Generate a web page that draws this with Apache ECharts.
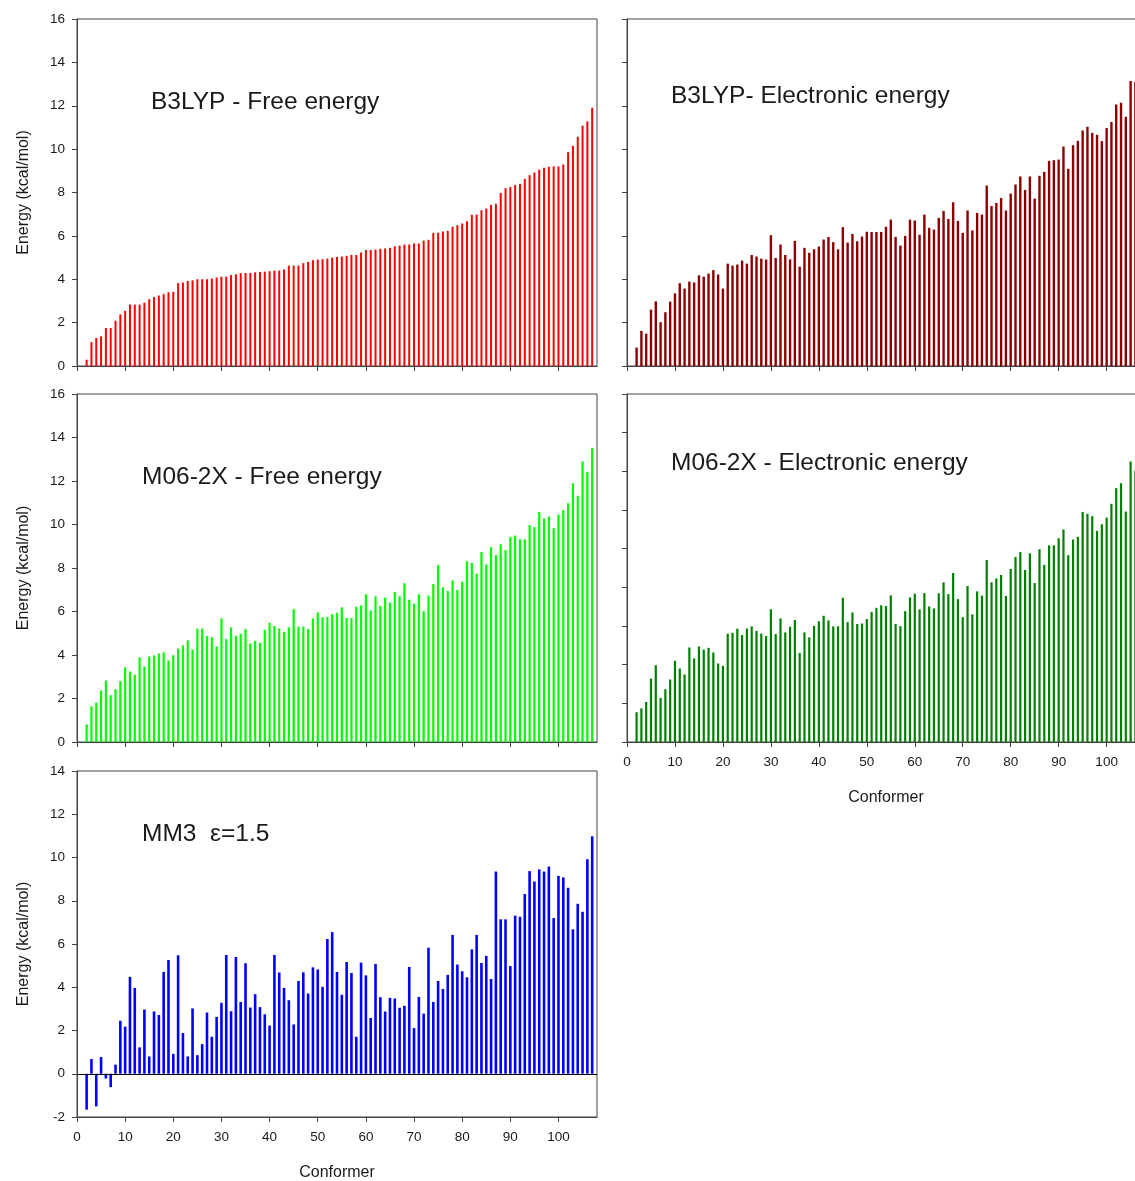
<!DOCTYPE html>
<html>
<head>
<meta charset="utf-8">
<script src="https://cdn.jsdelivr.net/npm/echarts@6/dist/echarts.min.js"></script>
<style>
html,body{margin:0;padding:0;background:#fff;}
#chart{width:1135px;height:1181px;}
</style>
</head>
<body>
<div id="chart"></div>
<script>
// Conformer values, index 0 = conformer 1
const b3lypFree = [0,0.29,1.1,1.29,1.37,1.75,1.75,2.09,2.38,2.54,2.83,2.83,2.83,2.92,3.08,3.18,3.25,3.31,3.4,3.42,
3.82,3.85,3.92,3.95,4.0,4.0,4.0,4.03,4.08,4.12,4.12,4.2,4.23,4.28,4.29,4.29,4.32,4.34,4.35,4.37,
4.4,4.4,4.45,4.63,4.63,4.63,4.74,4.8,4.88,4.91,4.92,4.95,5.0,5.03,5.05,5.08,5.12,5.12,5.23,5.35,
5.35,5.37,5.4,5.42,5.45,5.52,5.55,5.6,5.6,5.65,5.65,5.78,5.82,6.14,6.14,6.2,6.23,6.42,6.49,6.57,
6.68,6.97,6.98,7.18,7.26,7.43,7.48,7.98,8.2,8.25,8.35,8.4,8.63,8.8,8.92,9.05,9.14,9.18,9.2,9.2,
9.29,9.86,10.15,10.57,11.08,11.28,11.91];

const b3lypElec = [0,0.85,1.62,1.49,2.6,2.98,2.02,2.48,2.97,3.35,3.82,3.57,3.89,3.85,4.18,4.12,4.26,4.42,4.22,3.57,
4.72,4.63,4.68,4.86,4.72,5.12,5.05,4.95,4.91,6.03,4.98,5.6,5.12,4.92,5.77,4.58,5.45,5.22,5.38,5.51,
5.83,5.95,5.71,5.38,6.4,5.69,6.09,5.75,5.97,6.19,6.18,6.18,6.18,6.42,6.75,5.95,5.55,6.0,6.75,6.71,
6.05,6.98,6.37,6.29,6.83,7.15,6.78,7.55,6.69,6.14,7.17,6.25,7.06,6.98,8.32,7.37,7.52,7.75,7.17,7.95,
8.37,8.74,8.12,8.74,7.72,8.77,8.95,9.46,9.49,9.52,10.12,9.09,10.18,10.38,10.86,11.03,10.75,10.66,10.37,10.97,
11.25,12.06,12.14,11.49,13.14,13.11];

const m062xFree = [0,0.81,1.64,1.81,2.37,2.83,2.15,2.43,2.8,3.44,3.24,3.09,3.89,3.47,3.93,3.98,4.07,4.12,3.75,3.99,
4.29,4.45,4.67,4.25,5.21,5.21,4.88,4.82,4.39,5.68,4.73,5.27,4.88,4.98,5.19,4.53,4.65,4.56,5.16,5.48,
5.33,5.22,5.07,5.27,6.11,5.3,5.31,5.19,5.68,5.96,5.73,5.75,5.87,5.94,6.19,5.7,5.7,6.22,6.28,6.79,
6.05,6.7,6.25,6.64,6.41,6.9,6.7,7.3,6.54,6.36,6.79,6.01,6.73,7.27,8.13,7.11,6.94,7.43,6.99,7.37,
8.31,8.23,7.74,8.74,8.16,8.96,8.59,9.09,8.82,9.42,9.49,9.32,9.32,9.97,9.88,10.58,10.28,10.37,9.83,10.45,
10.66,10.98,11.9,11.32,12.9,12.43,13.53];

const m062xElec = [0,1.54,1.74,2.07,3.28,3.97,2.28,2.73,3.23,4.2,3.8,3.49,4.89,4.32,4.94,4.78,4.87,4.63,4.06,3.94,
5.6,5.65,5.86,5.53,5.87,5.98,5.75,5.61,5.48,6.86,5.58,6.39,5.67,5.96,6.31,4.6,5.67,5.41,6.01,6.24,
6.53,6.29,5.98,5.98,7.46,6.2,6.7,6.1,6.13,6.36,6.72,6.94,7.07,7.03,7.58,6.11,5.99,6.77,7.48,7.67,
6.86,7.7,7.01,6.91,7.69,8.26,7.65,8.74,7.39,6.46,8.07,6.6,7.79,7.57,9.41,8.26,8.46,8.64,7.55,8.95,
9.57,9.83,8.9,9.76,8.22,9.97,9.16,10.17,10.17,10.54,10.99,9.66,10.47,10.61,11.9,11.8,11.68,10.92,11.26,11.61,
12.32,13.13,13.39,11.92,14.51,14.04];

const mm3 = [0,-1.66,0.68,-1.51,0.77,-0.22,-0.62,0.42,2.45,2.18,4.48,3.97,1.22,2.97,0.8,2.88,2.72,4.71,5.26,0.92,
5.48,1.88,0.8,3.02,0.86,1.37,2.83,1.71,2.63,3.28,5.49,2.89,5.4,3.32,5.11,3.06,3.68,3.08,2.75,2.23,
5.49,4.68,3.97,3.4,2.28,4.29,4.69,3.71,4.92,4.82,4.02,6.23,6.55,4.71,3.65,5.17,4.66,1.71,5.14,4.55,
2.58,5.08,3.54,2.88,3.51,3.48,3.05,3.14,4.94,2.11,3.55,2.78,5.83,3.32,4.29,3.92,4.57,6.42,5.05,4.74,
4.46,5.75,6.42,5.12,5.45,4.38,9.35,7.14,7.14,4.98,7.31,7.26,8.31,9.37,8.89,9.45,9.35,9.58,7.2,9.15,
9.08,8.6,6.68,7.86,7.49,9.92,10.98];

const xTicks = [0,10,20,30,40,50,60,70,80,90,100];
const panelTitles = ['B3LYP - Free energy','B3LYP- Electronic energy','M06-2X - Free energy','M06-2X - Electronic energy','MM3  \u03b5=1.5'];
const yTitle = 'Energy (kcal/mol)';
const xTitle = 'Conformer';

function pairs(arr){ return arr.map((v,i)=>[i+1,v]); }

const FONT = "'Liberation Sans', Arial, sans-serif";
const AX = '#444';
const TXT = '#1a1a1a';

const grids = [
  {left:77, top:19, width:520, height:347},
  {left:627, top:19, width:518, height:347},
  {left:77, top:394, width:520, height:348},
  {left:627, top:394, width:518, height:348},
  {left:77, top:771, width:520, height:346}
].map(g=>Object.assign({show:true, borderColor:AX, borderWidth:1, containLabel:false, outerBoundsMode:'none'}, g));

function xAx(i, showLabels, name){
  return {
    type:'value', gridIndex:i, min:0, max:108, interval:10,
    position:'bottom',
    axisLine:{show:true, onZero:false, lineStyle:{color:AX, width:1}},
    axisTick:{show:true, inside:false, length:5, customValues:xTicks, lineStyle:{color:AX}},
    axisLabel:{show:showLabels, customValues:xTicks, margin:13, fontSize:13.5, color:TXT, fontFamily:FONT},
    splitLine:{show:false},
    name: name || '', nameLocation:'middle', nameGap:48,
    nameTextStyle:{fontSize:16, color:TXT, fontFamily:FONT}
  };
}
function yAx(i, min, max, showLabels, name){
  return {
    type:'value', gridIndex:i, min:min, max:max, interval:2,
    axisLine:{show:true, onZero:false, lineStyle:{color:AX, width:1}},
    axisTick:{show:true, inside:false, length:5, lineStyle:{color:AX}},
    axisLabel:{show:showLabels, margin:12, fontSize:13.5, color:TXT, fontFamily:FONT},
    splitLine:{show:false},
    name: name || '', nameLocation:'middle', nameGap:45,
    nameTextStyle:{fontSize:16, color:TXT, fontFamily:FONT}
  };
}

const titlePos = [
  {left:151, top:90},
  {left:671, top:84},
  {left:142, top:465},
  {left:671, top:451},
  {left:142, top:822}
];

const option = {
  animation:false,
  backgroundColor:'#fff',
  title: panelTitles.map((t,i)=>({
    text:t, left:titlePos[i].left, top:titlePos[i].top, padding:0,
    textStyle:{fontSize:24.5, fontWeight:'normal', color:TXT, fontFamily:FONT}
  })),
  grid: grids,
  xAxis: [xAx(0,false), xAx(1,false), xAx(2,false), xAx(3,true,xTitle), xAx(4,true,xTitle)],
  yAxis: [yAx(0,0,16,true,yTitle), yAx(1,0,16,false), yAx(2,0,16,true,yTitle), yAx(3,0,18,false), yAx(4,-2,14,true,yTitle)],
  series: [
    {type:'bar', xAxisIndex:0, yAxisIndex:0, data:pairs(b3lypFree), barWidth:2, itemStyle:{color:'#ff0000'}},
    {type:'bar', xAxisIndex:1, yAxisIndex:1, data:pairs(b3lypElec), barWidth:2.4, itemStyle:{color:'#8b0000'}},
    {type:'bar', xAxisIndex:2, yAxisIndex:2, data:pairs(m062xFree), barWidth:2.2, itemStyle:{color:'#00ff00'}},
    {type:'bar', xAxisIndex:3, yAxisIndex:3, data:pairs(m062xElec), barWidth:2.2, itemStyle:{color:'#008000'}},
    {type:'bar', xAxisIndex:4, yAxisIndex:4, data:pairs(mm3), barWidth:2.6, itemStyle:{color:'#0000ff'},
      markLine:{silent:true, symbol:'none', label:{show:false}, lineStyle:{color:'#000', width:1, type:'solid'},
        data:[{yAxis:0}]}}
  ]
};

const chart = echarts.init(document.getElementById('chart'), null, {renderer:'canvas'});
chart.setOption(option);
</script>
</body>
</html>
